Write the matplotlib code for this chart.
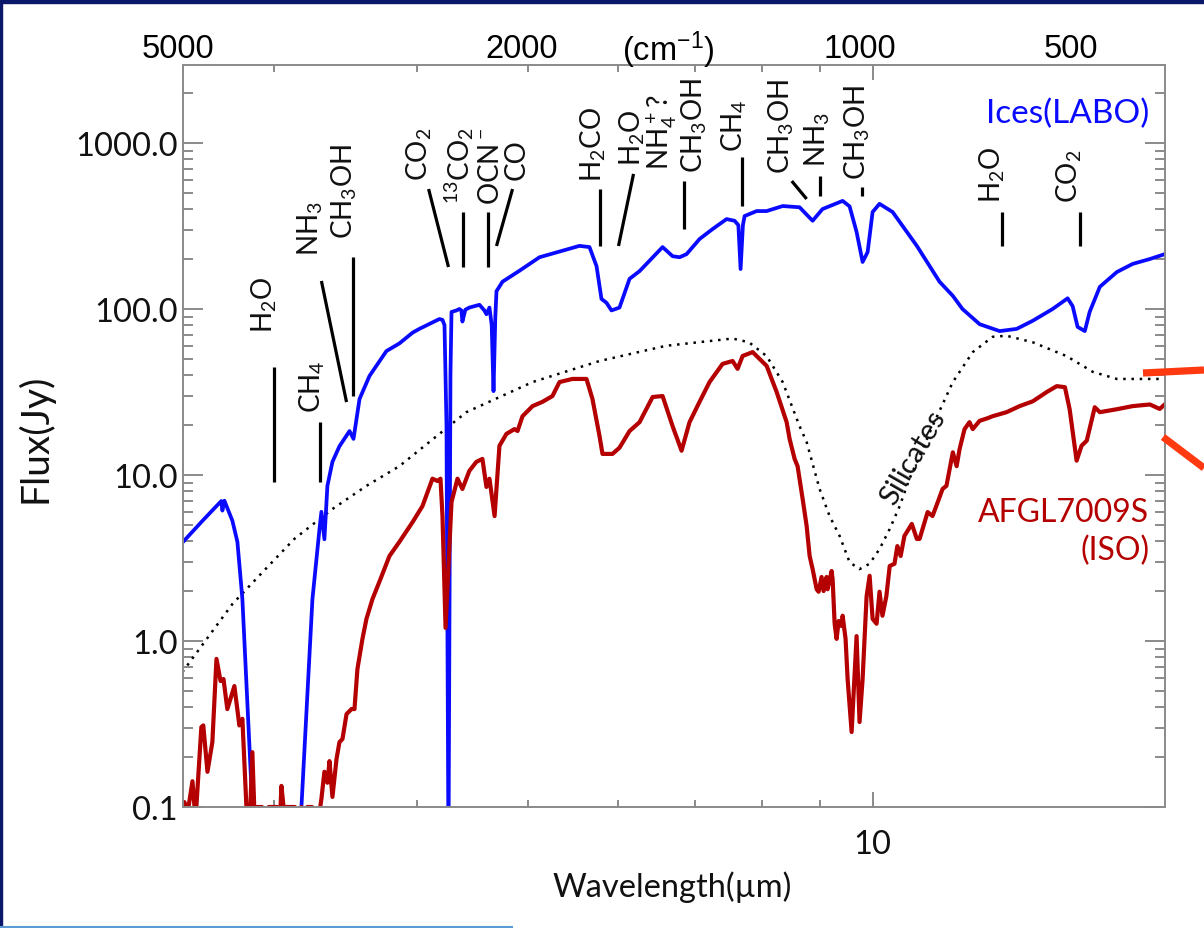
import matplotlib
matplotlib.use("Agg")
import matplotlib.pyplot as plt
from matplotlib.lines import Line2D
from matplotlib.patches import Rectangle
from matplotlib.ticker import LogLocator, NullFormatter, FuncFormatter

plt.rcParams['font.family'] = ['Lato', 'DejaVu Sans']
plt.rcParams['font.weight'] = 'normal'
plt.rcParams['mathtext.default'] = 'regular'

# ---------------- data (wavelength in micron, flux in Jy) ----------------
ices_wl = [2.50, 2.60, 2.70, 2.706, 2.717, 2.761, 2.789, 2.817, 2.874, 2.95,
           3.10, 3.172, 3.243, 3.289, 3.302, 3.322, 3.342, 3.376, 3.424, 3.494,
           3.522, 3.565, 3.637, 3.763, 3.862, 3.966, 4.022, 4.186, 4.212, 4.229,
           4.246, 4.263, 4.280, 4.289, 4.332, 4.358, 4.375, 4.384, 4.41, 4.446,
           4.537, 4.582, 4.601, 4.629, 4.650, 4.667, 4.684, 4.695, 4.752, 4.917,
           5.119, 5.404, 5.547, 5.660, 5.741, 5.798, 5.857, 5.916, 6.012, 6.135,
           6.259, 6.556, 6.689, 6.784, 6.880, 7.062, 7.249, 7.456, 7.577, 7.635,
           7.669, 7.705, 7.731, 7.921, 8.082, 8.346, 8.634, 8.864, 9.042, 9.415,
           9.548, 9.683, 9.801, 9.900, 10.00, 10.14, 10.41, 10.93, 11.44, 11.75,
           11.98, 12.40, 12.91, 13.36, 13.80, 14.36, 14.80, 14.95, 15.10, 15.32,
           15.47, 15.79, 16.34, 16.87, 17.46, 17.99]
ices_flux = [3.95, 5.3, 6.97, 6.1, 7.0, 5.3, 3.95, 1.79, 0.1, 0.03,
             0.03, 0.1, 1.79, 4.7, 6.0, 4.1, 8.6, 12.0, 14.9, 18.4,
             16.5, 28.7, 39.5, 55.8, 62, 72, 76, 87, 86, 80,
             20, 0.05, 40, 96, 98, 100, 98, 84, 99, 102,
             106, 98, 93, 102, 80, 32, 90, 128, 146, 170,
             205, 228, 240, 236, 181, 115, 109, 98, 102, 152,
             169, 236, 208, 205, 214, 264, 303, 348, 340, 320,
             174, 320, 363, 389, 389, 417, 410, 340, 400, 448,
             415, 291, 192, 220, 384, 430, 384, 240, 146, 120,
             100, 81, 73.6, 75.9, 85, 100, 116, 104, 78, 73.6,
             96, 136, 167, 187, 200, 214]

afgl_wl = [2.497, 2.507, 2.525, 2.548, 2.560, 2.568, 2.594, 2.604, 2.626, 2.652,
           2.674, 2.696, 2.712, 2.733, 2.772, 2.800, 2.817, 2.840, 2.857, 2.874,
           2.890, 2.903, 2.930, 2.950, 2.970, 3.020, 3.035, 3.047, 3.060, 3.130,
           3.150, 3.172, 3.190, 3.210, 3.240, 3.270, 3.302, 3.322, 3.342, 3.356,
           3.376, 3.404, 3.424, 3.445, 3.473, 3.508, 3.529, 3.550, 3.586, 3.615,
           3.659, 3.710, 3.786, 3.862, 3.966, 4.046, 4.128, 4.170, 4.195, 4.212,
           4.238, 4.289, 4.341, 4.384, 4.446, 4.509, 4.564, 4.601, 4.629, 4.677,
           4.723, 4.790, 4.868, 4.898, 4.947, 5.048, 5.150, 5.254, 5.329, 5.470,
           5.626, 5.694, 5.775, 5.810, 5.928, 6.012, 6.135, 6.259, 6.426, 6.556,
           6.689, 6.811, 6.921, 7.062, 7.205, 7.396, 7.547, 7.623, 7.700, 7.857,
           8.082, 8.246, 8.413, 8.463, 8.549, 8.600, 8.688, 8.758, 8.811, 8.864,
           8.936, 8.971, 9.025, 9.061, 9.116, 9.135, 9.209, 9.228, 9.265, 9.302,
           9.340, 9.396, 9.415, 9.471, 9.510, 9.587, 9.683, 9.741, 9.801, 9.880,
           9.940, 10.00, 10.08, 10.14, 10.20, 10.28, 10.35, 10.45, 10.51, 10.58,
           10.66, 10.82, 10.93, 10.99, 11.17, 11.28, 11.40, 11.51, 11.60, 11.75,
           11.84, 11.91, 12.03, 12.15, 12.23, 12.40, 12.58, 12.73, 13.09, 13.44,
           13.80, 14.19, 14.48, 14.72, 14.86, 15.07, 15.22, 15.38, 15.63, 15.79,
           16.34, 16.87, 17.46, 17.81, 17.99]
afgl_flux = [0.1, 0.107, 0.095, 0.143, 0.095, 0.1, 0.303, 0.31, 0.163, 0.246,
             0.78, 0.574, 0.59, 0.389, 0.535, 0.31, 0.34, 0.1, 0.07, 0.214,
             0.07, 0.1, 0.1, 0.07, 0.1, 0.1, 0.07, 0.134, 0.1, 0.1,
             0.07, 0.1, 0.07, 0.1, 0.1, 0.07, 0.112, 0.163, 0.14, 0.189,
             0.115, 0.195, 0.246, 0.257, 0.363, 0.389, 0.389, 0.678, 1.03, 1.36,
             1.79, 2.27, 3.25, 3.95, 5.2, 6.5, 9.5, 9.2, 9.5, 5.66,
             1.2, 6.87, 9.5, 8.24, 10.6, 12.0, 12.5, 8.47, 9.5, 5.66,
             15.0, 17.7, 18.9, 18.4, 22.6, 26, 27.6, 29.9, 36.3, 37.9,
             37.9, 28.7, 17.2, 13.4, 13.4, 14.6, 18.4, 20.8, 29.5, 29.9,
             19.7, 14.0, 20.8, 27.6, 36.3, 46.7, 48.6, 43.6, 52.1, 55.0,
             45.4, 31.6, 20.8, 16.5, 12.5, 11.3, 7.17, 4.93, 3.25, 2.71,
             2.05, 1.98, 2.43, 2.0, 2.43, 2.05, 2.64, 2.35, 1.27, 1.03,
             1.32, 1.23, 1.42, 1.03, 0.59, 0.283, 1.07, 0.325, 0.59, 1.86,
             2.47, 1.36, 1.27, 1.98, 1.42, 1.86, 2.83, 2.92, 3.73, 3.25,
             4.29, 5.07, 4.12, 4.12, 5.98, 5.66, 6.87, 8.24, 8.6, 13.7,
             11.3, 14.3, 18.9, 20.8, 18.9, 21.2, 21.9, 22.6, 23.9, 26,
             27.8, 31.6, 34.3, 33.8, 24.9, 12.2, 15.0, 16.1, 25.6, 23.9,
             24.9, 26, 26.6, 25.0, 26.6]

sil_wl = [2.497, 2.761, 2.94, 3.127, 3.376, 3.615, 3.862, 4.419, 5.048, 5.775,
          6.6, 7.547, 7.8, 8.082, 8.346, 8.634, 8.758, 8.989, 9.171, 9.359,
          9.548, 9.741, 9.940, 10.14, 10.35, 10.56, 10.77, 11.28, 11.75, 12.23,
          12.73, 13.09, 13.80, 14.77, 15.57, 16.34, 17.99]
sil_flux = [0.65, 1.67, 2.64, 4.12, 6.24, 8.6, 11.3, 23.9, 36.3, 48.6,
            60, 66.4, 63, 52, 36.3, 19.7, 15.8, 8.24, 5.66, 4.29,
            2.98, 2.71, 2.92, 3.58, 4.73, 6.5, 9.5, 19.7, 36.3, 55,
            68, 69, 63, 52, 41.8, 37.9, 37.9]

# band identifications
ann_labels = [r'H$_2$O', r'CH$_4$', r'NH$_3$', r'CH$_3$OH', r'CO$_2$',
              r'$^{13}$CO$_2$', r'OCN$^-$', r'CO', r'H$_2$CO', r'H$_2$O',
              r'NH$_4^+$?', r'CH$_3$OH', r'CH$_4$', r'CH$_3$OH', r'NH$_3$',
              r'CH$_3$OH', r'H$_2$O', r'CO$_2$']
ann_wl = [2.944, 3.243, 3.230, 3.458, 4.022, 4.358, 4.648, 4.888, 5.705, 6.172,
          6.55, 6.98, 7.577, 8.329, 8.954, 9.703, 12.73, 14.86]
ann_flux = [107, 34.4, 307.6, 514, 871, 737, 737, 801, 986, 1087,
            1181, 1283, 1283, 1266, 1057, 1165, 651, 642]

tick_wl0 = [3.0, 3.295, 3.302, 3.522, 4.096, 4.393, 4.611, 4.849, 5.786, 6.184,
            6.840, 7.685, 8.500, 8.989, 9.781, 12.96, 15.16]
tick_f0 = [44.7, 20.9, 147.5, 205.7, 528, 384, 384, 528, 528, 651,
           590, 823, 590, 633, 543, 384, 384]
tick_wl1 = [3.0, 3.295, 3.473, 3.522, 4.263, 4.393, 4.611, 4.695, 5.786, 6.0,
            6.840, 7.685, 8.758, 8.989, 9.781, 12.96, 15.16]
tick_f1 = [9.07, 9.07, 27.5, 29.9, 179, 179, 179, 239.6, 239.6, 239.6,
           303, 417, 460, 479, 479, 239.6, 239.6]

top_labels = ['5000', '2000', '(cm$^{-1}$)', '1000', '500']

# ---------------- figure ----------------
W, H = 1204, 929
fig = plt.figure(figsize=(W / 100, H / 100), dpi=100)
fig.patch.set_facecolor('white')

ax = fig.add_axes([183 / W, 1 - 808 / H, (1165 - 183) / W, (808 - 66) / H])
ax.set_xscale('log')
ax.set_yscale('log')
ax.set_xlim(2.5, 18.0)
ax.set_ylim(0.1, 2950)

BLUE = '#0a0aff'
DRED = '#b40000'
GRAY = '#8a8a8a'
TXT = '#111111'

ax.plot(sil_wl, sil_flux, color='black', lw=1.8, dashes=(1, 2.3))
ax.plot(ices_wl, ices_flux, color=BLUE, lw=2.7, solid_joinstyle='round')
ax.plot(afgl_wl, afgl_flux, color=DRED, lw=3.0, solid_joinstyle='round')

for x0, y0, x1, y1 in zip(tick_wl0, tick_f0, tick_wl1, tick_f1):
    ax.plot([x0, x1], [y0, y1], color='black', lw=2.3, solid_capstyle='butt')

for lab, x, y in zip(ann_labels, ann_wl, ann_flux):
    ax.text(x, y, lab, rotation=90, ha='center', va='center', fontsize=20,
            color=TXT)

ax.text(10.84, 12.8, 'Silicates', rotation=60, ha='center', va='center',
        fontsize=21, color=TXT, rotation_mode='anchor')
ax.text(0.984, 0.935, 'Ices(LABO)', transform=ax.transAxes, ha='right',
        va='center', fontsize=24, color=BLUE)
ax.text(0.984, 0.398, 'AFGL7009S', transform=ax.transAxes, ha='right',
        va='center', fontsize=23, color=DRED)
ax.text(0.984, 0.346, '(ISO)', transform=ax.transAxes, ha='right',
        va='center', fontsize=23, color=DRED)

# axes styling
for sp in ax.spines.values():
    sp.set_color(GRAY)
    sp.set_linewidth(1.4)

ax.xaxis.set_major_locator(LogLocator(base=10))
ax.xaxis.set_minor_locator(LogLocator(base=10, subs=range(2, 10)))
ax.xaxis.set_major_formatter(FuncFormatter(lambda v, p: f'{v:g}'))
ax.xaxis.set_minor_formatter(NullFormatter())
ax.yaxis.set_major_locator(LogLocator(base=10))
ax.yaxis.set_minor_locator(LogLocator(base=10, subs=range(2, 10)))
ax.yaxis.set_major_formatter(FuncFormatter(lambda v, p: f'{v:.1f}'))
ax.yaxis.set_minor_formatter(NullFormatter())

ax.tick_params(axis='both', which='both', direction='in', color=GRAY,
               width=1.4, top=True, right=True, labelcolor=TXT)
ax.tick_params(axis='y', which='major', length=14.4, labelsize=23.5, pad=4)
ax.tick_params(axis='y', which='minor', length=7.2)
ax.tick_params(axis='x', which='major', length=10.8, labelsize=23.5, pad=16)
ax.tick_params(axis='x', which='minor', length=5)

fig.text(672 / W, 1 - 887 / H, 'Wavelength(µm)', ha='center', va='center',
         fontsize=23.5, color=TXT)
fig.text(35 / W, 1 - 438 / H, 'Flux(Jy)', ha='center', va='center',
         rotation=90, fontsize=28, color=TXT)

top_x = [178, 522, 668, 860, 1071]
for lab, x in zip(top_labels, top_x):
    fig.text(x / W, 1 - 50 / H, lab, ha='center', va='center', fontsize=23.5,
             family=['Liberation Sans', 'DejaVu Sans'], weight='normal',
             color='black')

# slide decorations
fig.patches.append(Rectangle((0, 1 - 4 / H), 1, 4 / H, transform=fig.transFigure,
                             color='#0b1768', zorder=0))
fig.patches.append(Rectangle((0, 0), 2 / W, 1, transform=fig.transFigure,
                             color='#0b1768', zorder=0))
fig.lines.append(Line2D([0, 512 / W], [1 - 928 / H, 1 - 928 / H],
                        transform=fig.transFigure, color='#5b9bd5', lw=1.5))
fig.lines.append(Line2D([1143 / W, 1], [1 - 374 / H, 1 - 371 / H],
                        transform=fig.transFigure, color='#ff3a10', lw=5.2,
                        solid_capstyle='butt'))
fig.lines.append(Line2D([1163 / W, 1], [1 - 438 / H, 1 - 469 / H],
                        transform=fig.transFigure, color='#ff3a10', lw=5.2,
                        solid_capstyle='butt'))

fig.savefig('out.png', dpi=100)
